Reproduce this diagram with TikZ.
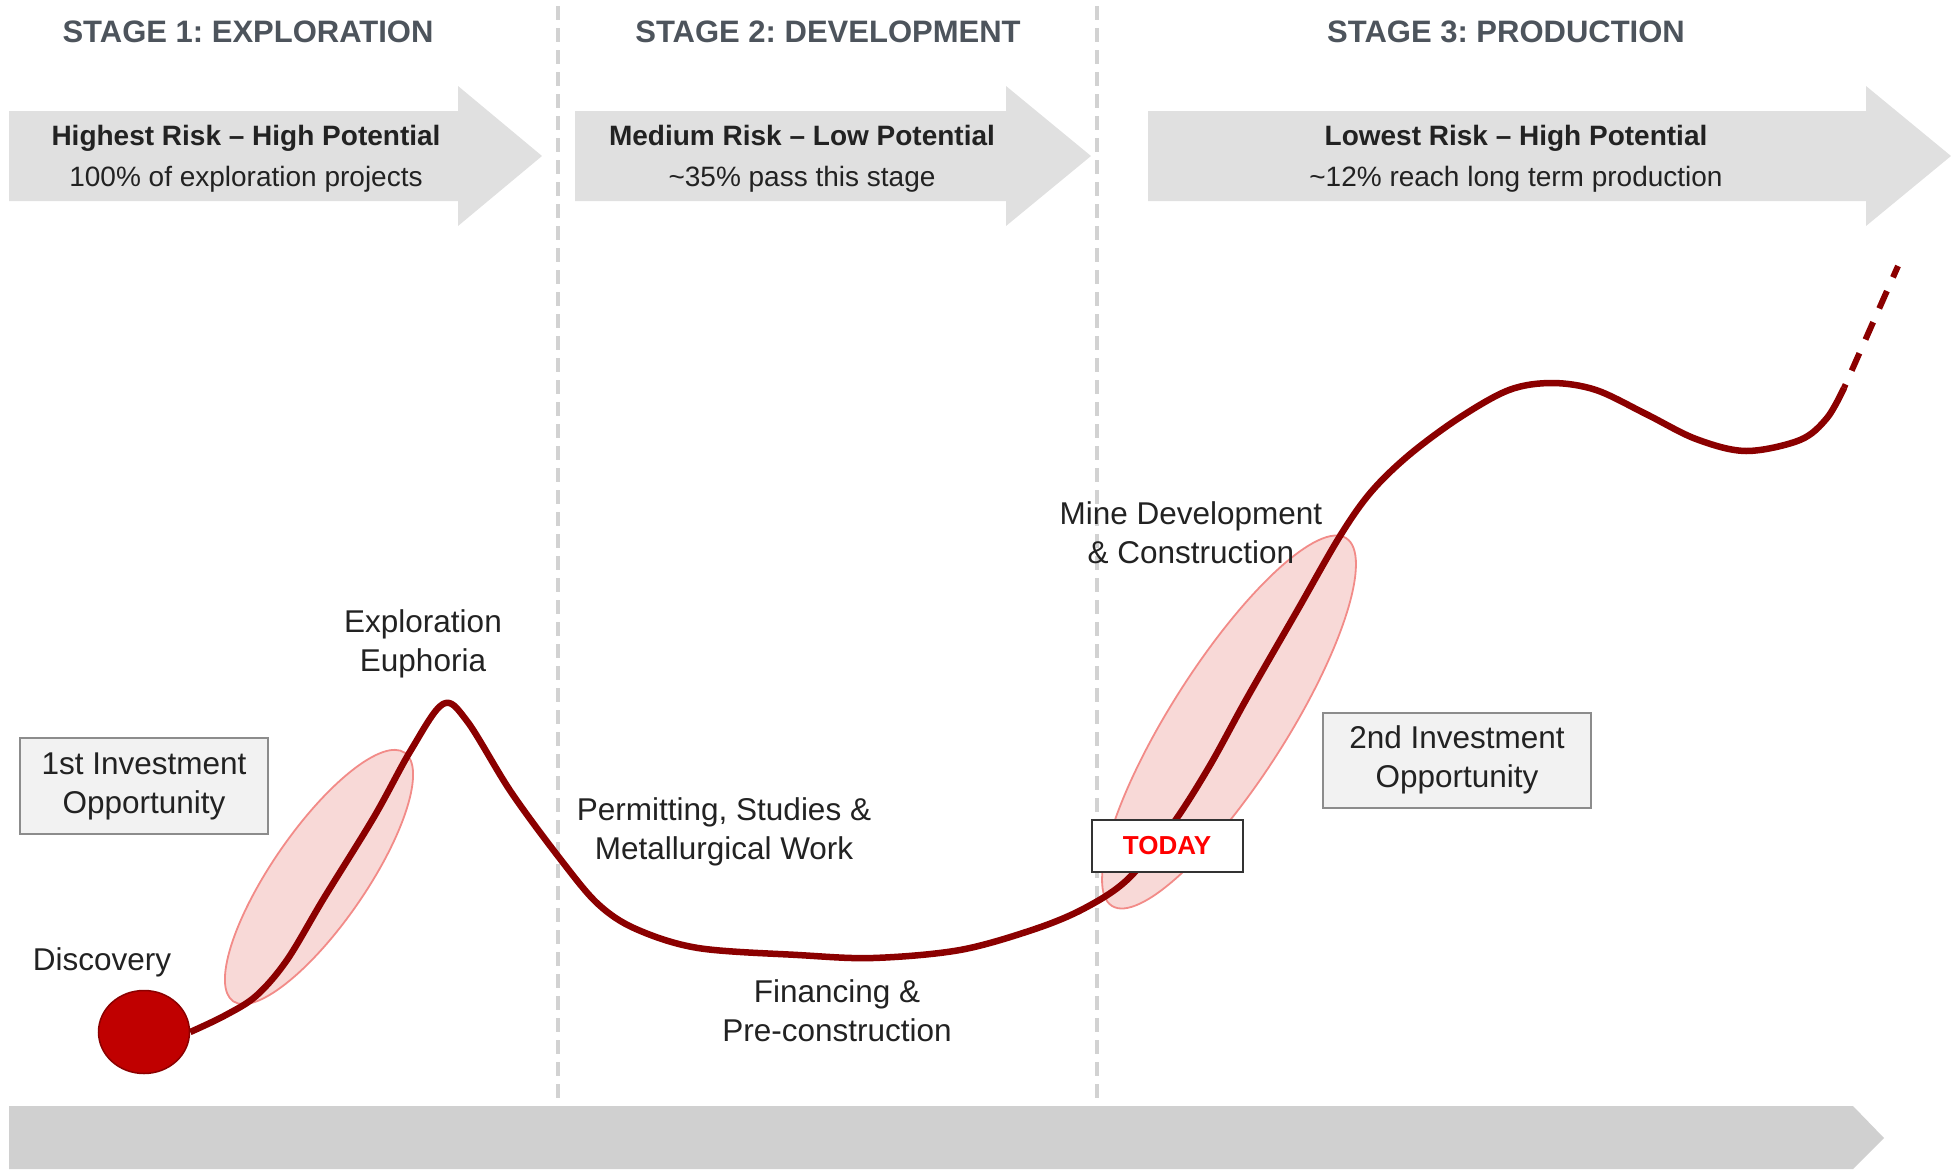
\documentclass[tikz,border=0pt]{standalone}
\usepackage{fontspec}
\setmainfont{Liberation Sans}
\usetikzlibrary{shapes.geometric}
\frenchspacing
\definecolor{titlegray}{HTML}{4D545C}
\definecolor{arrowgray}{HTML}{E0E0E0}
\definecolor{bargray}{HTML}{D0D0D0}
\definecolor{dashgray}{HTML}{D2D2D2}
\definecolor{curvered}{HTML}{8B0000}
\definecolor{discred}{HTML}{C00000}
\definecolor{ellfill}{HTML}{F8D9D7}
\definecolor{elldraw}{HTML}{F28B88}
\definecolor{boxfill}{HTML}{F2F2F2}
\definecolor{boxdraw}{HTML}{8C8C8C}
\definecolor{textdark}{HTML}{222222}
\definecolor{todayred}{HTML}{FF0000}
\tikzset{
  stagetitle/.style={font=\bfseries\fontsize{31}{36}\selectfont, text=titlegray, inner sep=0pt},
  arrowtext/.style={align=center, font=\fontsize{28}{41}\selectfont, text=textdark, inner sep=0pt},
  steplabel/.style={align=center, font=\fontsize{31.5}{39}\selectfont, text=textdark, inner sep=0pt},
  invbox/.style={draw=boxdraw, fill=boxfill, line width=2pt, align=center,
    font=\fontsize{31.5}{39}\selectfont, text=textdark, inner sep=0pt},
  todaybox/.style={draw=black!80, fill=white, line width=2pt, inner sep=0pt,
    minimum width=151pt, minimum height=52pt, font=\bfseries\fontsize{26}{30}\selectfont, text=todayred},
  stagearrow/.style={fill=arrowgray},
  timebar/.style={fill=bargray},
  stagesep/.style={draw=dashgray, line width=4pt, dash pattern=on 14pt off 8pt},
  zone/.style={fill=ellfill, draw=elldraw, line width=1.8pt},
  curveline/.style={draw=curvered, line width=6.5pt, line join=round},
  discnode/.style={ellipse, fill=discred, draw=curvered, line width=1.5pt, inner sep=0pt,
    minimum width=91pt, minimum height=83pt},
}
\begin{document}
\begin{tikzpicture}[x=1pt,y=-1pt]
\useasboundingbox (0,0) rectangle (1955,1170);
% stage arrows
\fill[stagearrow] (9,111) -- (458,111) -- (458,86) -- (542,156) -- (458,226) -- (458,201) -- (9,201) -- cycle;
\fill[stagearrow] (575,111) -- (1006,111) -- (1006,86) -- (1091,156) -- (1006,226) -- (1006,201) -- (575,201) -- cycle;
\fill[stagearrow] (1148,111) -- (1866,111) -- (1866,86) -- (1951,156) -- (1866,226) -- (1866,201) -- (1148,201) -- cycle;
% time bar
\fill[timebar] (9,1106) -- (1853,1106) -- (1884,1138) -- (1853,1169) -- (9,1169) -- cycle;
% opportunity zones
\begin{scope}[shift={(319,877)}, rotate=55.4]
  \filldraw[zone] (0,0) ellipse [x radius=151pt, y radius=47pt];
\end{scope}
\begin{scope}[shift={(1229,722)}, rotate=57.5]
  \filldraw[zone] (0,0) ellipse [x radius=218pt, y radius=58pt];
\end{scope}
% stage separators
\coordinate (s1top) at (558,6);
\coordinate (s1bot) at (558,1103);
\coordinate (s2top) at (1097,6);
\coordinate (s2bot) at (1097,1103);
\draw[stagesep] (s1top) -- (s1bot);
\draw[stagesep] (s2top) -- (s2bot);
% discovery
\node[discnode] (disc) at (144,1032) {};
\coordinate (curvestart) at (disc.east);
\draw[curveline] plot[smooth, tension=0.55] coordinates {(curvestart) (224,1016) (256,996) (287,960) (324,898) (374,817) (411,750) (443,704) (467,721) (511,792) (561,860) (598,904) (636,929) (698,948) (798,955) (873,958) (960,950) (1035,929) (1085,908) (1128,879) (1172,825) (1209,767) (1247,698) (1297,611) (1340,536) (1371,492) (1409,455) (1459,418) (1509,390) (1552,383) (1596,390) (1646,414) (1696,439) (1746,451) (1800,440) (1827,418) (1844,388)};
\coordinate (solidend) at (1844,388);
\coordinate (future) at (1898,266);
\draw[draw=curvered, line width=6pt, dash pattern=on 19pt off 15pt, dash phase=15pt] (solidend) -- (future);
% titles
\node[stagetitle] (t1) at (248,32) {STAGE 1: EXPLORATION};
\node[stagetitle] (t2) at (828,32) {STAGE 2: DEVELOPMENT};
\node[stagetitle] (t3) at (1506,32) {STAGE 3: PRODUCTION};
% arrow texts
\node[arrowtext] (a1) at (246,159) {\textbf{Highest Risk \textendash{} High Potential}\\100\% of exploration projects};
\node[arrowtext] (a2) at (802,159) {\textbf{Medium Risk \textendash{} Low Potential}\\\textasciitilde35\% pass this stage};
\node[arrowtext] (a3) at (1516,159) {\textbf{Lowest Risk \textendash{} High Potential}\\\textasciitilde12\% reach long term production};
% boxes
\node[invbox, minimum width=248pt, minimum height=96pt] (inv1) at (144,786) {1st Investment\\Opportunity};
\node[invbox, minimum width=268pt, minimum height=95pt] (inv2) at (1457,760) {2nd Investment\\Opportunity};
\node[todaybox] (today) at (1167,846) {TODAY};
% labels
\node[steplabel] (ldisc) at (102,962) {Discovery};
\node[steplabel] (leuph) at (423,644) {Exploration\\Euphoria};
\node[steplabel] (lperm) at (724,832) {Permitting, Studies \&\\Metallurgical Work};
\node[steplabel] (lfin) at (837,1011) {Financing \&\\Pre-construction};
\node[steplabel] (lmine) at (1191,533) {Mine Development\\\& Construction};
\end{tikzpicture}
\end{document}
